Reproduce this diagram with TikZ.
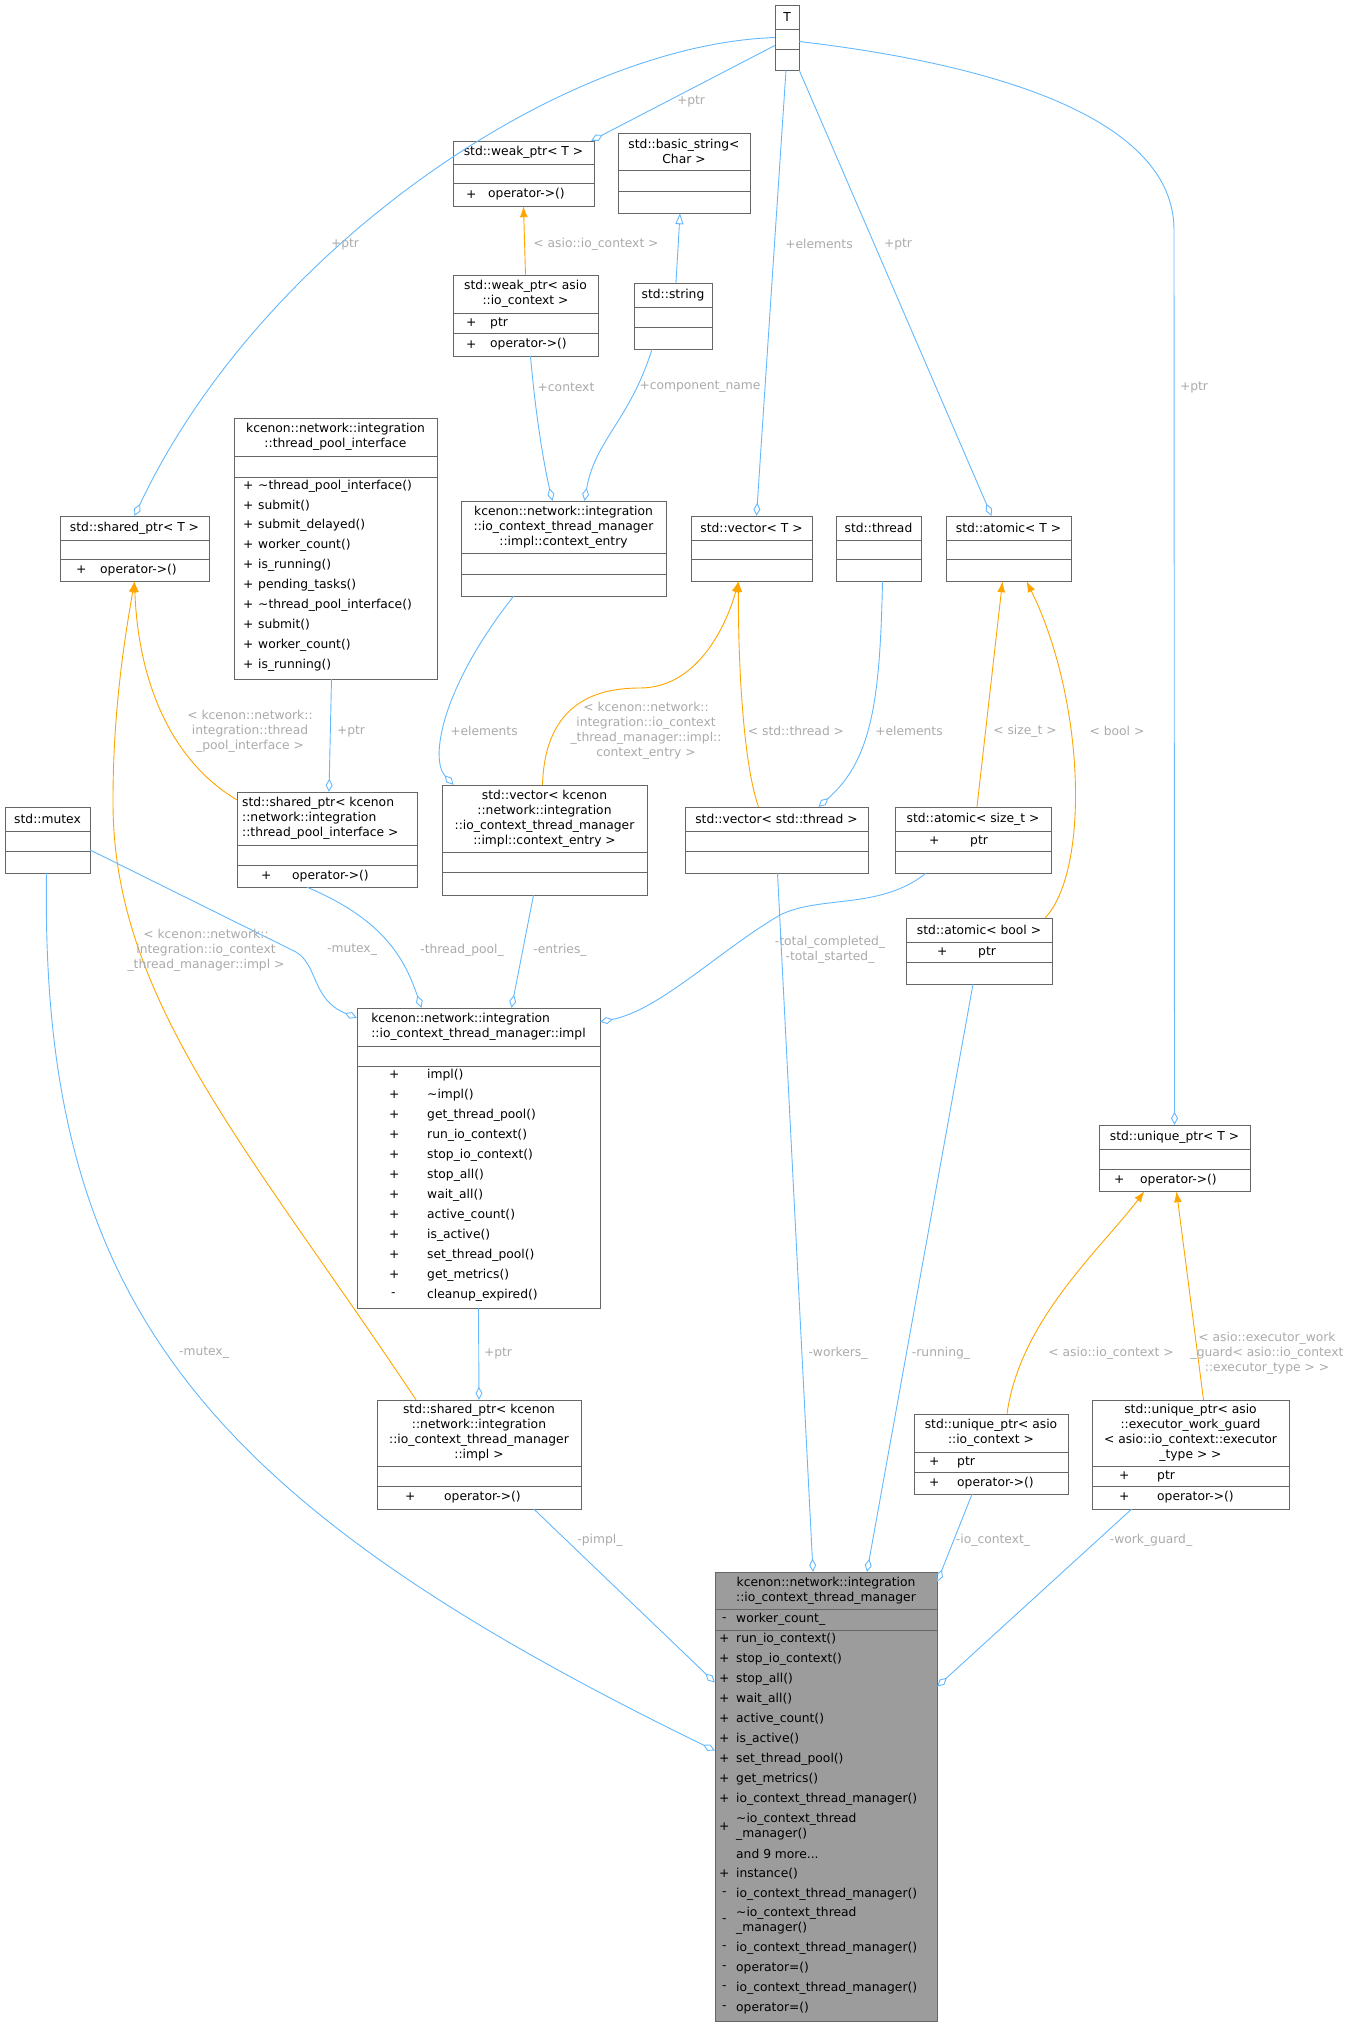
\documentclass[tikz,border=0pt]{standalone}
\usepackage{fontspec}
\setmainfont{DejaVu Sans}
\usetikzlibrary{fit,arrows.meta}
\definecolor{bd}{HTML}{666666}
\definecolor{eb}{HTML}{63B8FF}
\definecolor{eo}{HTML}{FFA500}
\definecolor{lg}{HTML}{AAAAAA}
\newcommand\Bx[6][white]{\node[draw=bd,fill=#1,inner sep=0,fit={(#3,#4)(#5,#6)}] (#2) {};}
\newcommand\Sp[3]{\draw[bd] (#1,#3)--(#2,#3);}
\newcommand\M[5]{\node[txt] at (#1,#3) {#4}; \node[txt,align=left] at (#2,#3) {#5};}
\begin{document}
\begin{tikzpicture}[x=1pt,y=-1pt,
  font=\fontsize{12.3}{15}\selectfont,
  txt/.style={inner sep=0,anchor=west},
  ttl/.style={inner sep=0,align=center},
  lbl/.style={inner sep=0,align=center,text=lg},
  agg/.style={eb,line width=0.9pt,-{Diamond[open,length=13,width=7]}},
  tmp/.style={eo,line width=0.9pt,-{Latex[length=11,width=8]}},
  inh/.style={eb,line width=0.9pt,-{Triangle[open,length=11,width=8]}}]
\useasboundingbox (0,0) rectangle (1347,2027);
% boxes
\Bx{T}{775}{5}{799}{70}\Sp{775}{799}{29}\Sp{775}{799}{49}
\node[ttl] at (787,17) {T};
\Bx{wpT}{453}{141}{594}{206}\Sp{453}{594}{164}\Sp{453}{594}{183}
\node[ttl] at (523.5,152.5) {std::weak\_ptr< T >};
\M{466}{488}{194.5}{+}{operator->()}
\Bx{bstr}{618}{133}{750}{213}\Sp{618}{750}{170}\Sp{618}{750}{191}
\node[ttl] at (684,151.5) {std::basic\_string<\\Char >};
\Bx{wpA}{453}{275}{598}{356}\Sp{453}{598}{313}\Sp{453}{598}{333}
\node[ttl] at (525.5,294) {std::weak\_ptr< asio\\::io\_context >};
\M{466}{490}{323}{+}{ptr}\M{466}{490}{344.5}{+}{operator->()}
\Bx{str}{634}{283}{712}{349}\Sp{634}{712}{307}\Sp{634}{712}{327}
\node[ttl] at (673,295) {std::string};
\Bx{tpi}{234}{418}{437}{679}\Sp{234}{437}{456}\Sp{234}{437}{477}
\node[ttl] at (335.5,437) {kcenon::network::integration\\::thread\_pool\_interface};
\M{243}{258}{486}{+}{\textasciitilde thread\_pool\_interface()}
\M{243}{258}{505.5}{+}{submit()}
\M{243}{258}{525}{+}{submit\_delayed()}
\M{243}{258}{545}{+}{worker\_count()}
\M{243}{258}{565}{+}{is\_running()}
\M{243}{258}{585}{+}{pending\_tasks()}
\M{243}{258}{605}{+}{\textasciitilde thread\_pool\_interface()}
\M{243}{258}{625}{+}{submit()}
\M{243}{258}{645}{+}{worker\_count()}
\M{243}{258}{665}{+}{is\_running()}
\Bx{ce}{461}{501}{666}{596}\Sp{461}{666}{553}\Sp{461}{666}{574}
\node[ttl] at (563.5,527) {kcenon::network::integration\\::io\_context\_thread\_manager\\::impl::context\_entry};
\Bx{spT}{60}{516}{209}{581}\Sp{60}{209}{540}\Sp{60}{209}{559}
\node[ttl] at (134.5,528) {std::shared\_ptr< T >};
\M{76}{100}{570}{+}{operator->()}
\Bx{vT}{691}{516}{812}{581}\Sp{691}{812}{540}\Sp{691}{812}{559}
\node[ttl] at (751.5,528) {std::vector< T >};
\Bx{thr}{836}{516}{921}{581}\Sp{836}{921}{540}\Sp{836}{921}{559}
\node[ttl] at (878.5,528) {std::thread};
\Bx{aT}{946}{516}{1071}{581}\Sp{946}{1071}{540}\Sp{946}{1071}{559}
\node[ttl] at (1008.5,528) {std::atomic< T >};
\Bx{mtx}{5}{807}{90}{873}\Sp{5}{90}{831}\Sp{5}{90}{851}
\node[ttl] at (47.5,819) {std::mutex};
\Bx{sptpi}{237}{792}{417}{887}\Sp{237}{417}{845}\Sp{237}{417}{865}
\node[ttl,align=left,anchor=west] at (242,818.5) {std::shared\_ptr< kcenon\\::network::integration\\::thread\_pool\_interface >};
\M{261}{292}{876}{+}{operator->()}
\Bx{vce}{442}{785}{647}{895}\Sp{442}{647}{852}\Sp{442}{647}{872}
\node[ttl] at (544.5,818.5) {std::vector< kcenon\\::network::integration\\::io\_context\_thread\_manager\\::impl::context\_entry >};
\Bx{vthr}{685}{807}{868}{873}\Sp{685}{868}{831}\Sp{685}{868}{851}
\node[ttl] at (776.5,819) {std::vector< std::thread >};
\Bx{asz}{895}{807}{1051}{873}\Sp{895}{1051}{831}\Sp{895}{1051}{851}
\node[ttl] at (973,819) {std::atomic< size\_t >};
\M{929}{970}{841}{+}{ptr}
\Bx{abool}{906}{918}{1052}{984}\Sp{906}{1052}{942}\Sp{906}{1052}{962}
\node[ttl] at (979,930) {std::atomic< bool >};
\M{937}{978}{952}{+}{ptr}
\Bx{impl}{357}{1008}{600}{1308}\Sp{357}{600}{1046}\Sp{357}{600}{1066}
\node[ttl,align=left] at (478.5,1027) {kcenon::network::integration\\::io\_context\_thread\_manager::impl};
\M{389}{427}{1075}{+}{impl()}
\M{389}{427}{1095}{+}{\textasciitilde impl()}
\M{389}{427}{1115}{+}{get\_thread\_pool()}
\M{389}{427}{1135}{+}{run\_io\_context()}
\M{389}{427}{1155}{+}{stop\_io\_context()}
\M{389}{427}{1175}{+}{stop\_all()}
\M{389}{427}{1195}{+}{wait\_all()}
\M{389}{427}{1215}{+}{active\_count()}
\M{389}{427}{1235}{+}{is\_active()}
\M{389}{427}{1255}{+}{set\_thread\_pool()}
\M{389}{427}{1275}{+}{get\_metrics()}
\M{391}{427}{1295}{-}{cleanup\_expired()}
\Bx{uT}{1099}{1125}{1250}{1191}\Sp{1099}{1250}{1149}\Sp{1099}{1250}{1169}
\node[ttl] at (1174.5,1137) {std::unique\_ptr< T >};
\M{1114}{1140}{1180}{+}{operator->()}
\Bx{spimpl}{377}{1400}{581}{1509}\Sp{377}{581}{1466}\Sp{377}{581}{1486}
\node[ttl] at (479,1433) {std::shared\_ptr< kcenon\\::network::integration\\::io\_context\_thread\_manager\\::impl >};
\M{405}{444}{1497}{+}{operator->()}
\Bx{uio}{914}{1414}{1068}{1494}\Sp{914}{1068}{1452}\Sp{914}{1068}{1472}
\node[ttl] at (991,1433) {std::unique\_ptr< asio\\::io\_context >};
\M{929}{957}{1462}{+}{ptr}\M{929}{957}{1483}{+}{operator->()}
\Bx{uwg}{1092}{1400}{1289}{1509}\Sp{1092}{1289}{1466}\Sp{1092}{1289}{1486}
\node[ttl] at (1190.5,1433) {std::unique\_ptr< asio\\::executor\_work\_guard\\< asio::io\_context::executor\\\_type > >};
\M{1119}{1157}{1476}{+}{ptr}\M{1119}{1157}{1497}{+}{operator->()}
\Bx[bd!65]{main}{715}{1572}{937}{2021}\Sp{715}{937}{1609}\Sp{715}{937}{1630}
\draw[bd] (main.north west) rectangle (main.south east);
\node[ttl] at (826,1590.5) {kcenon::network::integration\\::io\_context\_thread\_manager};
\M{722}{736}{1619.5}{-}{worker\_count\_}
\M{719}{736}{1639}{+}{run\_io\_context()}
\M{719}{736}{1659}{+}{stop\_io\_context()}
\M{719}{736}{1679}{+}{stop\_all()}
\M{719}{736}{1699}{+}{wait\_all()}
\M{719}{736}{1719}{+}{active\_count()}
\M{719}{736}{1739}{+}{is\_active()}
\M{719}{736}{1759}{+}{set\_thread\_pool()}
\M{719}{736}{1779}{+}{get\_metrics()}
\M{719}{736}{1799}{+}{io\_context\_thread\_manager()}
\M{719}{736}{1826.5}{+}{\textasciitilde io\_context\_thread\\\_manager()}
\node[txt] at (736,1854) {and 9 more...};
\M{719}{736}{1874}{+}{instance()}
\M{722}{736}{1894}{-}{io\_context\_thread\_manager()}
\M{722}{736}{1921}{-}{\textasciitilde io\_context\_thread\\\_manager()}
\M{722}{736}{1948}{-}{io\_context\_thread\_manager()}
\M{722}{736}{1968}{-}{operator=()}
\M{722}{736}{1988}{-}{io\_context\_thread\_manager()}
\M{722}{736}{2008}{-}{operator=()}
% edges
\draw[agg] (T.west) .. controls (560,45) and (260,250) .. (spT.north);
\node[lbl] at (345,244) {+ptr};
\draw[agg] ([yshift=-8]T.west) -- ([xshift=-3]wpT.north east);
\node[lbl] at (691,101) {+ptr};
\draw[agg] ([xshift=-1]T.south) -- ([xshift=5]vT.north);
\node[lbl] at (819,244) {+elements};
\draw[agg] (T.south east) -- ([xshift=-17]aT.north);
\node[lbl] at (898,244) {+ptr};
\draw[agg] ([yshift=-4]T.east) .. controls (1000,65) and (1174,120) .. (1174,230) -- (uT.north);
\node[lbl] at (1194,387) {+ptr};
\draw[tmp] (wpA.north) -- (wpT.south);
\node[lbl] at (596,244) {< asio::io\_context >};
\draw[inh] ([xshift=3]str.north) -- ([xshift=-4]bstr.south);
\draw[agg] ([xshift=5]wpA.south) .. controls (536,420) and (545,470) .. ([xshift=-11]ce.north);
\node[lbl] at (566,387) {+context};
\draw[agg] ([xshift=-21]str.south) .. controls (630,420) and (595,440) .. ([xshift=21]ce.north);
\node[lbl] at (700,387) {+component\_name};
\draw[agg] ([xshift=-4]tpi.south) -- ([xshift=2]sptpi.north);
\node[lbl] at (351,731) {+ptr};
\draw[tmp] ([yshift=-8]sptpi.north west) .. controls (170,760) and (138,680) .. (spT.south);
\node[lbl] at (250,731) {< kcenon::network::\\integration::thread\\\_pool\_interface >};
\draw[agg] ([xshift=-50]ce.south) .. controls (440,690) and (430,760) .. ([xshift=-91]vce.north);
\node[lbl] at (484,731) {+elements};
\draw[tmp] ([xshift=-2]vce.north) .. controls (545,700) and (600,688) .. (640,688) .. controls (700,688) and (728,620) .. ([xshift=-13]vT.south);
\node[lbl] at (646,731) {< kcenon::network::\\integration::io\_context\\\_thread\_manager::impl::\\context\_entry >};
\draw[tmp] ([xshift=-18]vthr.north) .. controls (742,760) and (738,650) .. ([xshift=-13]vT.south);
\node[lbl] at (796,731) {< std::thread >};
\draw[agg] ([xshift=4]thr.south) .. controls (880,700) and (872,760) .. ([xshift=42]vthr.north);
\node[lbl] at (909,731) {+elements};
\draw[tmp] ([xshift=4]asz.north) -- ([xshift=-6]aT.south);
\node[lbl] at (1025,731) {< size\_t >};
\draw[tmp] ([xshift=-7]abool.north east) .. controls (1090,870) and (1085,700) .. ([xshift=18]aT.south);
\node[lbl] at (1117,731) {< bool >};
\draw[agg] ([yshift=-10]mtx.east) -- (296,952) .. controls (318,965) and (312,1000) .. ([yshift=-10]impl.north west);
\node[lbl] at (352,950) {-mutex\_};
\draw[agg] ([xshift=-20]sptpi.south) .. controls (385,920) and (405,960) .. ([xshift=-57]impl.north);
\node[lbl] at (462,950) {-thread\_pool\_};
\draw[agg] ([xshift=-11]vce.south) -- ([xshift=33]impl.north);
\node[lbl] at (560,950) {-entries\_};
\draw[agg] ([xshift=-47]asz.south) .. controls (880,910) and (820,895) .. (780,915) .. controls (720,950) and (660,1010) .. ([yshift=-14]impl.north east);
\node[lbl] at (830,950) {-total\_completed\_\\-total\_started\_};
\draw[agg] (impl.south) -- (spimpl.north);
\node[lbl] at (498,1353) {+ptr};
\draw[tmp] ([xshift=-63]spimpl.north) .. controls (250,1150) and (112,1000) .. (113,800) .. controls (113,700) and (128,620) .. (spT.south);
\node[lbl] at (206,950) {< kcenon::network::\\integration::io\_context\\\_thread\_manager::impl >};
\draw[agg] ([xshift=-1]mtx.south) .. controls (40,1300) and (200,1500) .. ([yshift=46]main.west);
\node[lbl] at (204,1353) {-mutex\_};
\draw[agg] ([xshift=55]spimpl.south) -- ([yshift=114]main.west);
\node[lbl] at (600,1540) {-pimpl\_};
\draw[agg] ([xshift=1]vthr.south) -- ([xshift=-13]main.north);
\node[lbl] at (838,1353) {-workers\_};
\draw[agg] ([xshift=-6]abool.south) -- ([xshift=41]main.north);
\node[lbl] at (941,1353) {-running\_};
\draw[agg] ([xshift=-19]uio.south) -- ([yshift=-10]main.north east);
\node[lbl] at (993,1540) {-io\_context\_};
\draw[agg] ([xshift=-59]uwg.south) -- ([yshift=110]main.east);
\node[lbl] at (1151,1540) {-work\_guard\_};
\draw[tmp] ([xshift=16]uio.north) .. controls (1020,1320) and (1100,1250) .. ([xshift=-30]uT.south);
\node[lbl] at (1111,1353) {< asio::io\_context >};
\draw[tmp] ([xshift=13]uwg.north) -- ([xshift=2]uT.south);
\node[lbl] at (1267,1353) {< asio::executor\_work\\\_guard< asio::io\_context\\::executor\_type > >};
\end{tikzpicture}
\end{document}
